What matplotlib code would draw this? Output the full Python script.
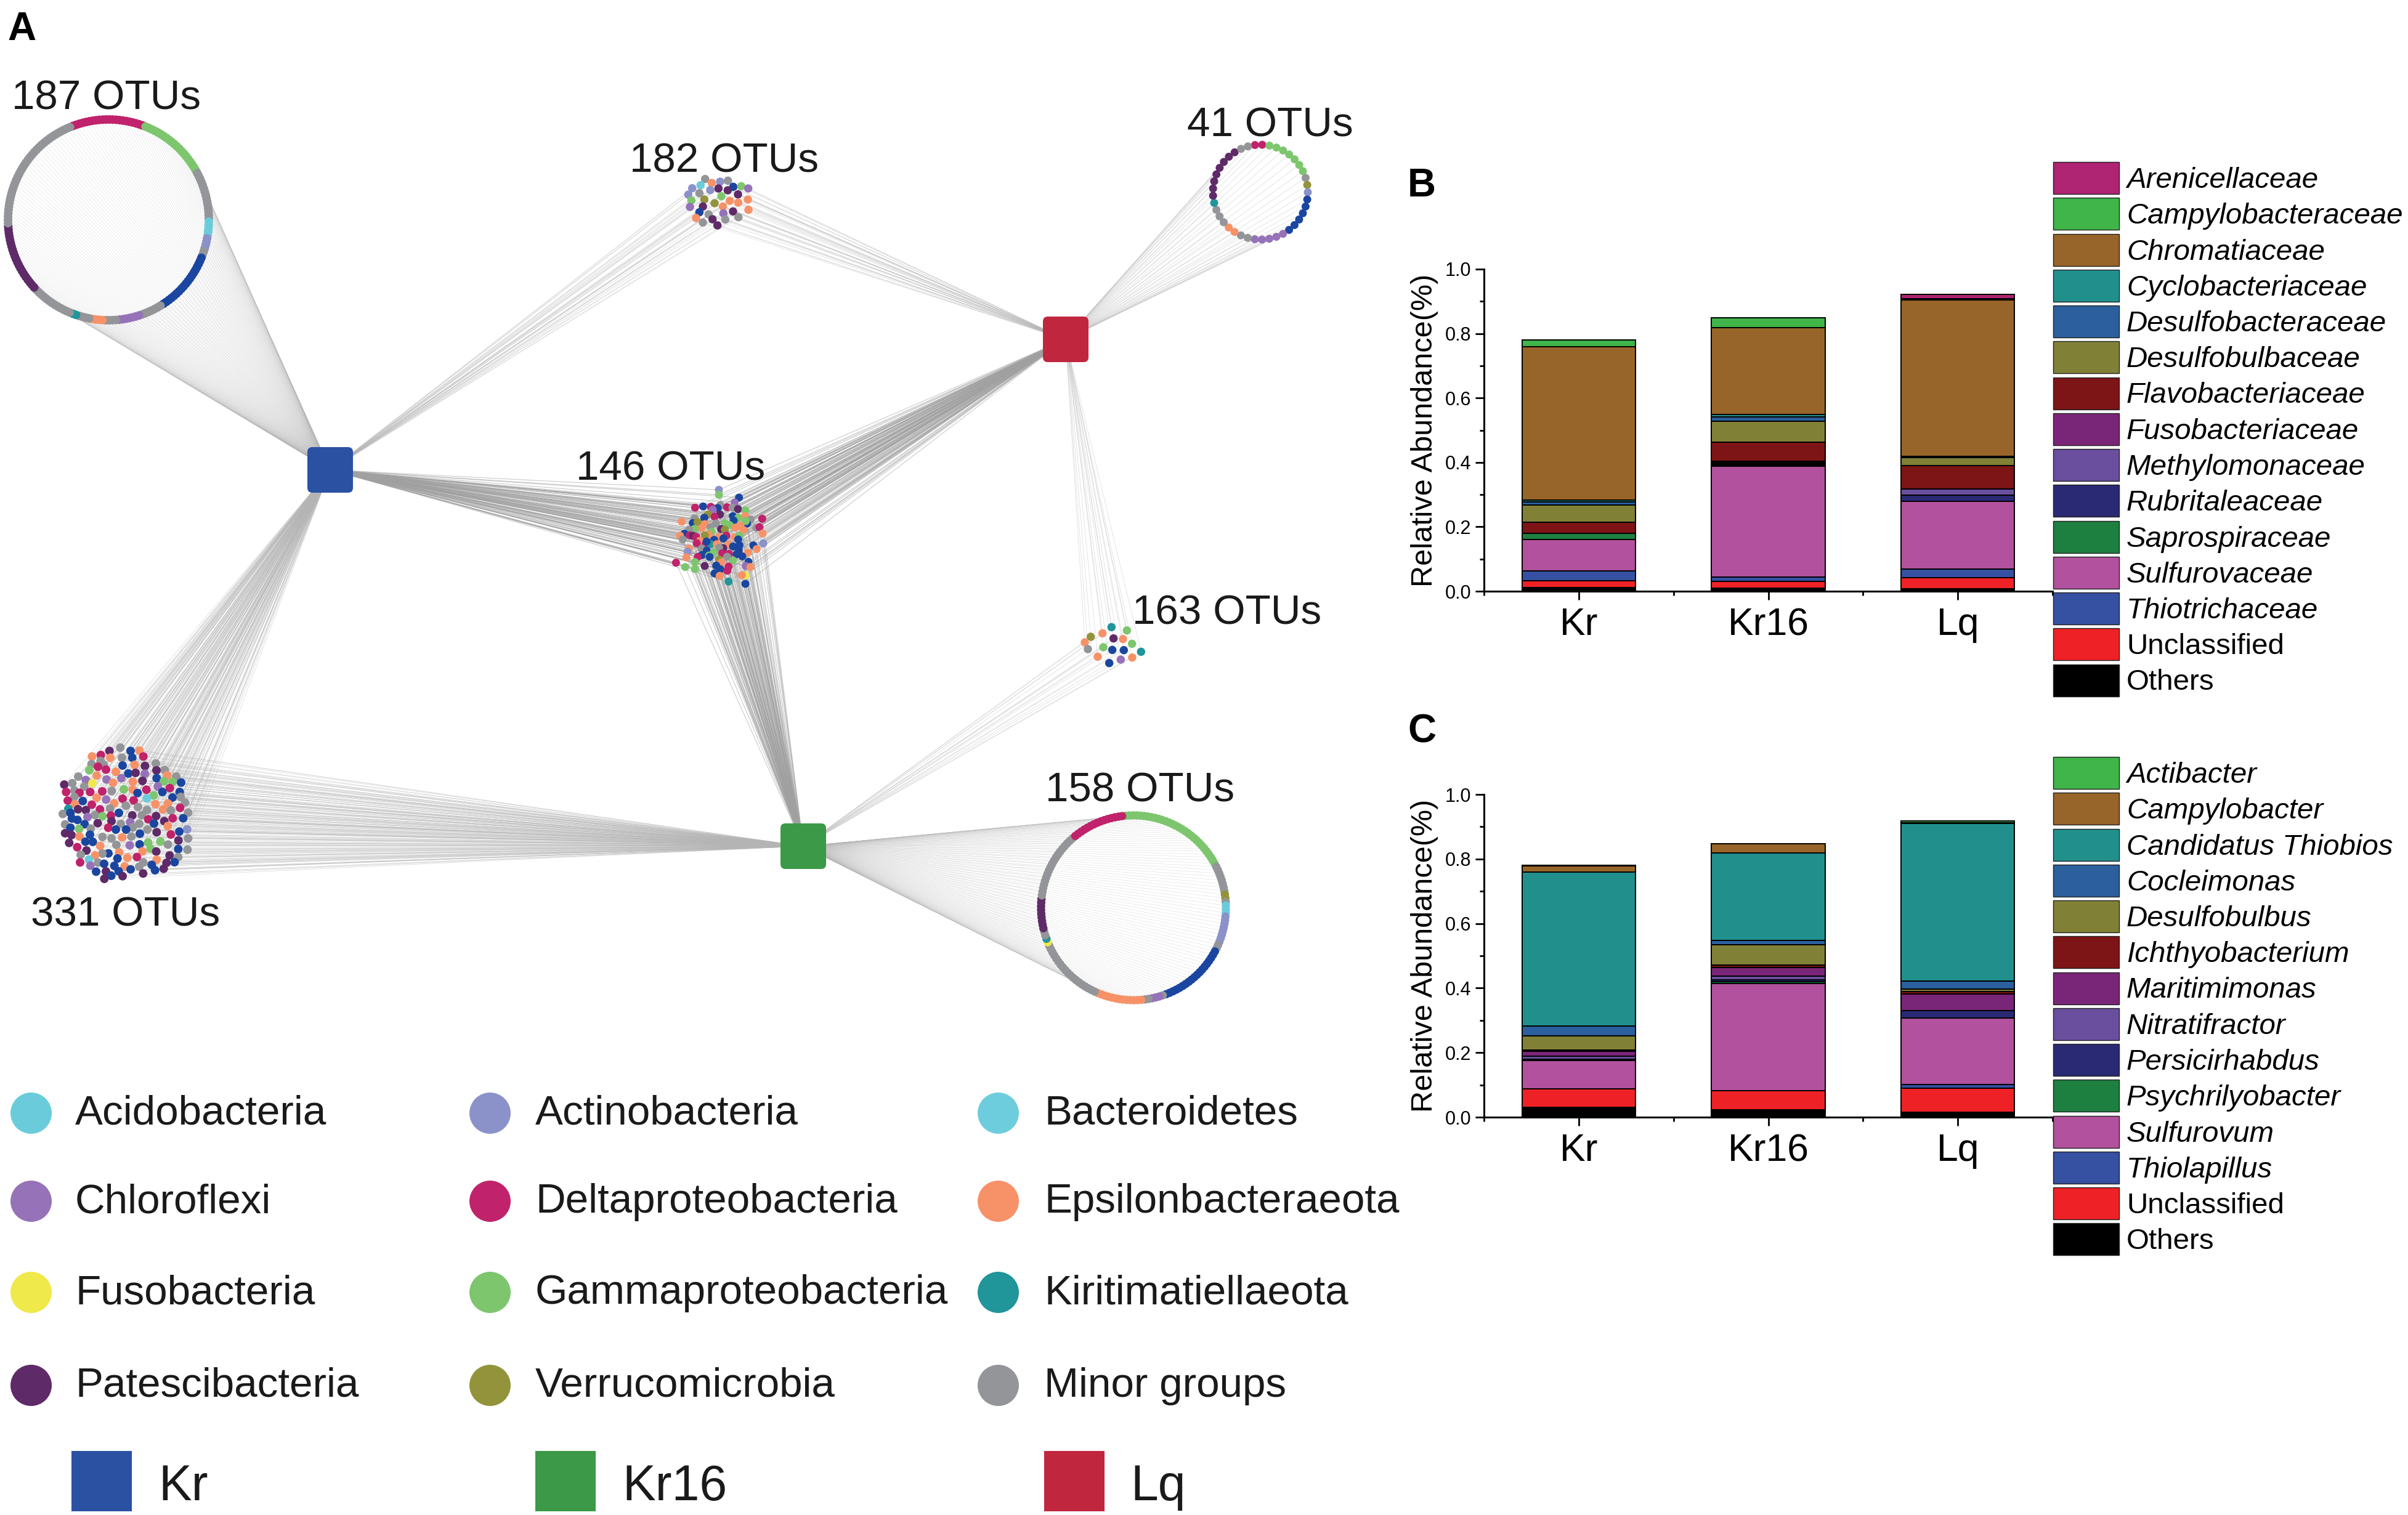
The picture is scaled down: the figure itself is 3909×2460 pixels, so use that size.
#!/usr/bin/env python3
"""Shared OTU network with phylum colours (A) and stacked family/genus bars (B, C)."""

import matplotlib
matplotlib.use("Agg")
import matplotlib.pyplot as plt
import numpy as np
from matplotlib.collections import LineCollection
from matplotlib.patches import FancyBboxPatch, Rectangle

plt.rcParams["font.family"] = ["Liberation Sans", "DejaVu Sans"]

W, H = 3909, 2460

# ---- phyla ----
phylum_colors = {
    "A": "#6ACCDB", "N": "#8B92C9", "C": "#9672B8", "D": "#C0226B",
    "E": "#F79268", "Y": "#F0E94B", "G": "#7DC66E", "K": "#20959A",
    "P": "#5F2A68", "V": "#93933B", "M": "#939598", "B": "#1A46A0",
}
legend_phyla = [
    ["Acidobacteria", "Chloroflexi", "Fusobacteria", "Patescibacteria"],
    ["Actinobacteria", "Deltaproteobacteria", "Gammaproteobacteria", "Verrucomicrobia"],
    ["Bacteroidetes", "Epsilonbacteraeota", "Kiritimatiellaeota", "Minor groups"],
]
legend_phyla_colors = [
    ["#6ACCDB", "#9672B8", "#F0E94B", "#5F2A68"],
    ["#8B92C9", "#C0226B", "#7DC66E", "#93933B"],
    ["#6ECDDD", "#F79268", "#20959A", "#939598"],
]

# ---- sample hubs ----
hub_names = ["Kr", "Kr16", "Lq"]
hub_colors = ["#2B51A3", "#3B9947", "#C1263F"]
hub_xy = {"Kr": (536, 763), "Kr16": (1304, 1374), "Lq": (1730, 551)}

# ---- ring modules: phylum run lengths, clockwise ----
ring_187_phyla = list("DGMANMBMCMEMKMPM")
ring_187_counts = [22, 21, 15, 5, 4, 2, 19, 7, 7, 4, 4, 4, 2, 13, 21, 37]
ring_158_phyla = list("GMVMANMBMCMEMYKMPMD")
ring_158_counts = [30, 8, 2, 1, 3, 8, 2, 19, 1, 3, 2, 13, 19, 1, 1, 2, 9, 19, 15]
ring_41_phyla = list("DGMVNBCMEMKPM")
ring_41_counts = [2, 7, 1, 1, 1, 6, 5, 2, 2, 3, 1, 8, 2]

# ---- cloud modules: node positions (crop px, 3x) ----
nodes_331 = [
    (436,102,"M"),(383,118,"P"),(486,118,"B"),(529,116,"E"),(341,138,"D"),(298,145,"E"),(548,145,"D"),
    (444,151,"M"),(387,151,"E"),(494,151,"B"),(340,167,"M"),(296,182,"M"),(355,185,"M"),(609,179,"M"),
    (327,195,"D"),(447,189,"B"),(506,186,"E"),(556,191,"P"),(366,209,"D"),(285,212,"G"),(652,211,"M"),
    (612,213,"P"),(414,220,"E"),(475,228,"B"),(510,225,"P"),(555,229,"C"),(321,238,"E"),(664,237,"E"),
    (231,243,"M"),(708,243,"M"),(613,251,"B"),(441,251,"C"),(268,260,"C"),(369,257,"C"),(544,264,"P"),
    (497,268,"E"),(648,266,"G"),(690,269,"G"),(732,272,"B"),(163,282,"P"),(202,275,"M"),(300,275,"Y"),
    (400,273,"E"),(260,292,"M"),(619,291,"C"),(677,299,"D"),(453,305,"G"),(496,306,"E"),(563,307,"D"),
    (212,310,"M"),(172,318,"D"),(237,322,"D"),(289,318,"D"),(348,315,"D"),(394,313,"M"),(520,323,"B"),
    (641,318,"B"),(725,318,"B"),(598,335,"G"),(212,342,"M"),(730,342,"M"),(690,345,"B"),(565,349,"A"),
    (321,346,"E"),(447,351,"D"),(180,360,"D"),(253,362,"B"),(367,355,"C"),(501,359,"D"),(751,370,"M"),
    (215,377,"E"),(297,380,"D"),(406,374,"E"),(607,377,"E"),(668,374,"E"),(463,385,"M"),(522,391,"M"),
    (727,395,"D"),(183,400,"K"),(230,402,"P"),(268,406,"P"),(337,403,"D"),(386,398,"M"),(644,403,"E"),
    (566,406,"M"),(682,408,"M"),(156,425,"M"),(193,420,"B"),(429,420,"B"),(766,419,"M"),(312,430,"M"),
    (349,436,"G"),(390,433,"D"),(494,432,"P"),(541,431,"M"),(610,435,"P"),(276,440,"C"),(200,447,"B"),
    (227,454,"B"),(691,446,"D"),(742,446,"B"),(572,451,"D"),(393,460,"P"),(650,460,"P"),(326,470,"P"),
    (484,465,"C"),(167,476,"M"),(262,475,"B"),(438,473,"M"),(528,473,"M"),(600,472,"B"),(667,484,"E"),
    (193,492,"B"),(377,492,"D"),(496,491,"M"),(235,498,"G"),(292,497,"M"),(414,501,"B"),(464,501,"B"),
    (568,501,"M"),(761,500,"N"),(167,519,"P"),(198,528,"P"),(288,526,"B"),(613,514,"P"),(723,511,"B"),
    (531,521,"B"),(682,525,"D"),(237,535,"E"),(349,537,"M"),(393,544,"M"),(445,539,"E"),(490,535,"M"),
    (766,544,"M"),(719,554,"P"),(266,560,"B"),(302,561,"B"),(187,566,"P"),(631,559,"G"),(571,564,"G"),
    (417,576,"M"),(530,573,"B"),(668,574,"M"),(338,581,"E"),(482,578,"C"),(226,587,"D"),(583,594,"G"),
    (718,596,"B"),(763,599,"M"),(271,603,"P"),(611,608,"P"),(544,607,"E"),(430,612,"E"),(378,617,"B"),
    (349,618,"M"),(243,624,"M"),(313,627,"E"),(676,627,"P"),(718,635,"M"),(422,642,"B"),(470,638,"E"),
    (517,635,"D"),(283,647,"A"),(613,648,"E"),(240,661,"D"),(327,662,"M"),(548,661,"M"),(661,663,"P"),
    (700,660,"B"),(357,668,"B"),(407,678,"B"),(589,673,"B"),(290,677,"C"),(457,681,"E"),(528,682,"M"),
    (486,695,"B"),(605,699,"B"),(647,692,"P"),(318,706,"B"),(428,704,"B"),(366,705,"P"),(547,715,"P"),
    (392,726,"B"),(447,728,"P"),(358,741,"P"),
]
nodes_146 = [
    (351,76,"N"),(351,100,"G"),(449,114,"B"),(428,138,"C"),(235,163,"D"),(274,157,"B"),(312,159,"D"),
    (358,150,"M"),(345,165,"B"),(391,161,"D"),(417,163,"M"),(444,170,"P"),(321,173,"C"),(480,176,"G"),
    (298,196,"V"),(356,196,"P"),(479,204,"E"),(419,204,"B"),(330,207,"D"),(562,217,"D"),(280,212,"B"),
    (446,212,"G"),(506,221,"M"),(423,226,"B"),(170,231,"E"),(232,215,"M"),(224,238,"B"),(247,232,"V"),
    (283,243,"E"),(337,240,"M"),(381,240,"G"),(404,248,"G"),(488,240,"B"),(482,228,"G"),(268,262,"E"),
    (233,266,"G"),(310,258,"M"),(362,267,"P"),(380,270,"V"),(432,260,"E"),(456,250,"E"),(533,261,"M"),
    (548,258,"D"),(470,272,"E"),(205,270,"M"),(315,280,"G"),(564,289,"E"),(183,290,"B"),(302,294,"E"),
    (162,300,"E"),(209,298,"D"),(225,300,"P"),(283,298,"V"),(240,305,"D"),(352,305,"E"),(387,299,"D"),
    (429,306,"E"),(452,300,"G"),(175,318,"M"),(373,313,"B"),(258,325,"E"),(328,320,"B"),(445,318,"B"),
    (243,336,"D"),(286,342,"D"),(311,340,"K"),(341,341,"E"),(398,341,"E"),(291,328,"B"),(567,337,"N"),
    (519,347,"B"),(451,346,"B"),(372,360,"P"),(267,362,"M"),(420,352,"B"),(205,363,"E"),(352,358,"M"),
    (535,365,"E"),(292,372,"B"),(448,370,"B"),(198,378,"N"),(326,380,"G"),(367,385,"D"),(492,382,"E"),
    (400,388,"D"),(268,394,"B"),(303,396,"G"),(437,390,"B"),(391,402,"M"),(193,405,"E"),(248,403,"D"),
    (465,400,"B"),(306,403,"B"),(352,415,"V"),(420,420,"G"),(142,431,"D"),(235,428,"G"),(363,430,"E"),
    (495,427,"B"),(338,445,"B"),(282,447,"P"),(398,450,"D"),(187,452,"G"),(482,447,"C"),(505,452,"E"),
    (235,462,"G"),(358,463,"B"),(392,470,"D"),(330,483,"B"),(355,495,"E"),(480,493,"Y"),(463,492,"E"),
    (398,523,"K"),(480,534,"B"),
]
nodes_182 = [
    (194,92,"M"),(226,111,"E"),(267,105,"N"),(305,100,"M"),(172,122,"A"),(131,137,"N"),(331,130,"B"),
    (370,127,"G"),(404,138,"C"),(219,146,"N"),(259,138,"P"),(304,147,"P"),(166,161,"M"),(112,168,"N"),
    (354,167,"P"),(273,176,"G"),(190,192,"V"),(127,197,"G"),(402,192,"E"),(314,198,"E"),(240,210,"V"),
    (355,207,"E"),(120,228,"C"),(183,226,"P"),(281,226,"E"),(405,242,"E"),(166,254,"B"),(330,250,"P"),
    (283,259,"C"),(211,264,"M"),(356,278,"M"),(150,282,"E"),(230,288,"P"),(292,289,"M"),(183,304,"M"),
    (254,318,"P"),
]
nodes_163 = [
    (223,85,"K"),(298,101,"G"),(179,115,"E"),(122,132,"V"),(233,140,"P"),(279,143,"E"),(93,159,"E"),
    (323,166,"G"),(108,192,"M"),(183,183,"G"),(227,196,"B"),(283,197,"B"),(367,205,"K"),(156,229,"E"),
    (324,233,"E"),(268,243,"C"),(212,260,"B"),
]

# ---- bars ----
samples = ["Kr", "Kr16", "Lq"]
family_names = ["Arenicellaceae", "Campylobacteraceae", "Chromatiaceae", "Cyclobacteriaceae",
                "Desulfobacteraceae", "Desulfobulbaceae", "Flavobacteriaceae", "Fusobacteriaceae",
                "Methylomonaceae", "Rubritaleaceae", "Saprospiraceae", "Sulfurovaceae",
                "Thiotrichaceae", "Unclassified", "Others"]
family_kr =   [0.000, 0.020, 0.477, 0.006, 0.009, 0.054, 0.034, 0.000, 0.000, 0.000, 0.019, 0.098, 0.030, 0.022, 0.011]
family_kr16 = [0.000, 0.030, 0.270, 0.006, 0.015, 0.064, 0.059, 0.004, 0.004, 0.004, 0.004, 0.344, 0.014, 0.020, 0.010]
family_lq =   [0.013, 0.003, 0.486, 0.000, 0.005, 0.023, 0.074, 0.000, 0.018, 0.019, 0.000, 0.211, 0.026, 0.035, 0.008]
family_colors = ["#AF2473", "#3FB54A", "#976429", "#21908D", "#2B5F9E", "#808137", "#7D1416", "#7A2678",
                 "#6A4F9E", "#2A2A74", "#1E8040", "#B2519D", "#3650A2", "#EE2226", "#000000"]

genus_names = ["Actibacter", "Campylobacter", "Candidatus Thiobios", "Cocleimonas", "Desulfobulbus",
               "Ichthyobacterium", "Maritimimonas", "Nitratifractor", "Persicirhabdus",
               "Psychrilyobacter", "Sulfurovum", "Thiolapillus", "Unclassified", "Others"]
genus_kr =   [0.002, 0.018, 0.478, 0.030, 0.044, 0.004, 0.016, 0.009, 0.004, 0.000, 0.088, 0.000, 0.057, 0.030]
genus_kr16 = [0.000, 0.029, 0.271, 0.012, 0.063, 0.009, 0.026, 0.012, 0.005, 0.006, 0.331, 0.000, 0.060, 0.023]
genus_lq =   [0.006, 0.002, 0.488, 0.026, 0.007, 0.007, 0.052, 0.000, 0.022, 0.000, 0.206, 0.013, 0.074, 0.015]
genus_colors = ["#3FB54A", "#976429", "#21908D", "#2B5F9E", "#808137", "#7D1416", "#7A2678",
                "#6A4F9E", "#2A2A74", "#1E8040", "#B2519D", "#3650A2", "#EE2226", "#000000"]
plain_names = ("Unclassified", "Others")


def ring_nodes(cx, cy, r, phyla, counts, start_deg):
    """Space a ring's nodes evenly, clockwise from start_deg (0 = top)."""
    codes = [p for p, c in zip(phyla, counts) for _ in range(c)]
    ang = np.radians(start_deg + np.arange(len(codes)) * 360.0 / len(codes))
    return list(zip(cx + r * np.sin(ang), cy - r * np.cos(ang), codes))


def crop_nodes(nodes, x0, y0):
    return [(x0 + x / 3, y0 + y / 3, c) for x, y, c in nodes]


def draw_edges(ax, nodes, hubs, lw=0.4, color="#b4b4b4", alpha=0.5):
    segs = [[(x, y), hub_xy[h]] for h in hubs for x, y, _ in nodes]
    ax.add_collection(LineCollection(segs, colors=color, linewidths=lw, alpha=alpha, zorder=1))


def draw_nodes(ax, nodes, size_px):
    xs = [n[0] for n in nodes]
    ys = [n[1] for n in nodes]
    cs = [phylum_colors[n[2]] for n in nodes]
    ax.scatter(xs, ys, s=(size_px * 0.72) ** 2, c=cs, linewidths=0, zorder=3)


def stacked_panel(fig, top_px, bottom_px, names, colors, columns):
    left, right = 2409, 3332
    ax = fig.add_axes([left / W, 1 - bottom_px / H, (right - left) / W, (bottom_px - top_px) / H])
    ax.patch.set_alpha(0)
    base = np.zeros(3)
    # stack from the last legend entry upwards
    for i in range(len(names) - 1, -1, -1):
        vals = np.array([col[i] for col in columns])
        keep = vals > 0
        ax.bar(np.arange(1, 4)[keep], vals[keep], 0.6, bottom=base[keep], color=colors[i],
               edgecolor="black", linewidth=1.4)
        base += vals
    ax.set_xlim(0.5, 3.5)
    ax.set_ylim(0, 1)
    ax.set_xticks([1, 2, 3], samples, fontsize=45)
    ax.set_xticks([0.5, 1.5, 2.5, 3.5], minor=True)
    ax.set_yticks(np.arange(0, 1.01, 0.2))
    ax.set_yticks(np.arange(0.1, 1, 0.2), minor=True)
    ax.tick_params(axis="y", which="major", labelsize=22, length=10, width=2, pad=5)
    ax.tick_params(axis="x", which="major", length=10, width=2, pad=8)
    ax.tick_params(which="minor", length=5, width=2)
    for s in ("top", "right"):
        ax.spines[s].set_visible(False)
    for s in ("left", "bottom"):
        ax.spines[s].set_linewidth(2.2)
    ax.set_ylabel("Relative Abundance(%)", fontsize=35)
    ax.yaxis.set_label_coords((2335 - left) / (right - left), 0.5)
    return ax


def bar_legend(ax, cy0, names, colors):
    for i, (name, col) in enumerate(zip(names, colors)):
        cy = cy0 + i * 58.25
        ax.add_patch(Rectangle((3333, cy - 26), 107, 52, facecolor=col, edgecolor="#222222", linewidth=1.0, zorder=3))
        style = "normal" if name in plain_names else "italic"
        ax.text(3452, cy + 4, name, fontsize=34.2, style=style, va="center", ha="left", color="black")


def main():
    fig = plt.figure(figsize=(W / 100, H / 100), dpi=100, facecolor="white")
    ax = fig.add_axes([0, 0, 1, 1])
    ax.set_xlim(0, W)
    ax.set_ylim(H, 0)
    ax.axis("off")

    ring187 = ring_nodes(176, 357, 163, ring_187_phyla, ring_187_counts, -20.6)
    ring158 = ring_nodes(1840, 1474, 150, ring_158_phyla, ring_158_counts, -4.8)
    ring41 = ring_nodes(2046, 312, 77, ring_41_phyla, ring_41_counts, -6.5)
    cloud331 = crop_nodes(nodes_331, 50, 1180)
    cloud146 = crop_nodes(nodes_146, 1050, 770)
    cloud182 = crop_nodes(nodes_182, 1080, 260)
    cloud163 = crop_nodes(nodes_163, 1730, 990)

    draw_edges(ax, ring187, ["Kr"], lw=0.35)
    draw_edges(ax, ring158, ["Kr16"], lw=0.35)
    draw_edges(ax, ring41, ["Lq"], lw=0.5)
    draw_edges(ax, cloud331, ["Kr", "Kr16"], lw=0.5)
    draw_edges(ax, cloud146, ["Kr", "Kr16", "Lq"], lw=0.8, color="#a0a0a0", alpha=0.55)
    draw_edges(ax, cloud182, ["Kr", "Lq"], lw=0.5)
    draw_edges(ax, cloud163, ["Kr16", "Lq"], lw=0.5)

    draw_nodes(ax, ring187, 14)
    draw_nodes(ax, ring158, 13.5)
    draw_nodes(ax, ring41, 13)
    draw_nodes(ax, cloud331, 14)
    draw_nodes(ax, cloud146, 13)
    draw_nodes(ax, cloud182, 13.5)
    draw_nodes(ax, cloud163, 13.5)

    for name, col in zip(hub_names, hub_colors):
        x, y = hub_xy[name]
        ax.add_patch(FancyBboxPatch((x - 30, y - 30), 60, 60, boxstyle="round,pad=7,rounding_size=8",
                                    facecolor=col, edgecolor="none", zorder=4))

    otu_labels = [("187 OTUs", 19, 177), ("182 OTUs", 1022, 279), ("41 OTUs", 1927, 222),
                  ("146 OTUs", 935, 780), ("163 OTUs", 1838, 1014), ("158 OTUs", 1697, 1302),
                  ("331 OTUs", 50, 1503)]
    for txt, x, y in otu_labels:
        ax.text(x, y, txt, fontsize=48.5, va="baseline", ha="left", color="#1a1a1a", zorder=5)

    for txt, x, y in [("A", 12, 65), ("B", 2285, 319), ("C", 2285, 1206)]:
        ax.text(x, y, txt, fontsize=46, fontweight="bold", va="baseline", ha="left", color="black")

    # phylum legend
    col_x = [50, 795, 1620]
    text_x = [122, 869, 1695]
    row_y = [1809, 1952, 2100, 2251]
    for j in range(3):
        for i in range(4):
            ax.scatter([col_x[j]], [row_y[i] - 2], s=(67 * 0.72) ** 2, c=legend_phyla_colors[j][i], linewidths=0, zorder=3)
            ax.text(text_x[j], row_y[i], legend_phyla[j][i], fontsize=48.5, va="center", ha="left", color="#1a1a1a")

    # sample legend
    for name, col, x0, tx in zip(hub_names, hub_colors, [116, 869, 1695], [257, 1010, 1835]):
        ax.add_patch(Rectangle((x0, 2356), 98, 98, facecolor=col, edgecolor="none"))
        ax.text(tx, 2415, name, fontsize=58, va="center", ha="left", color="#1a1a1a")

    stacked_panel(fig, 437, 960, family_names, family_colors, [family_kr, family_kr16, family_lq])
    stacked_panel(fig, 1290, 1814, genus_names, genus_colors, [genus_kr, genus_kr16, genus_lq])
    bar_legend(ax, 289, family_names, family_colors)
    bar_legend(ax, 1255, genus_names, genus_colors)

    fig.savefig("out.png", dpi=100)
    plt.close(fig)


if __name__ == "__main__":
    main()
